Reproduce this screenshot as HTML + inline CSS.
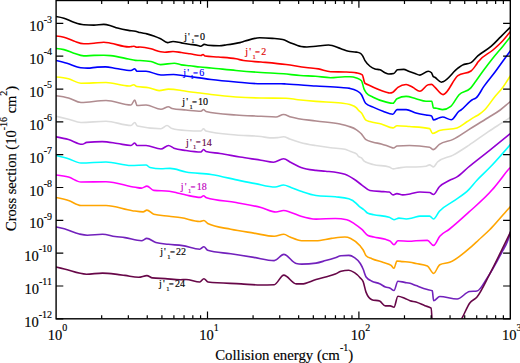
<!DOCTYPE html>
<html><head><meta charset="utf-8"><style>
html,body{margin:0;padding:0;background:#fff;}
body{width:520px;height:363px;overflow:hidden;}
svg{display:block;font-family:"Liberation Serif",serif;}
text{stroke:currentColor;stroke-width:0.15px;}
</style></head><body>
<svg width="520" height="363" viewBox="0 0 520 363">
<defs><clipPath id="cp"><rect x="56.1" y="0.5" width="454.2" height="318.3"/></clipPath></defs>
<g clip-path="url(#cp)" fill="none" stroke-width="1.6" stroke-linejoin="round" stroke-linecap="round">
<path stroke="#000000" d="M56.00,16.50C58.63,16.95 61.27,17.40 63.90,18.20C67.20,19.20 70.50,21.20 73.80,22.30C77.13,23.41 80.47,24.60 83.80,24.80C87.20,25.00 90.60,25.10 94.00,25.10C97.27,25.10 100.53,24.40 103.80,24.40C106.07,24.40 108.33,25.09 110.60,25.70C112.90,26.32 115.20,27.42 117.50,28.10C121.17,29.18 124.83,29.84 128.50,30.40C130.80,30.75 133.10,30.67 135.40,31.20C136.93,31.55 138.47,32.20 140.00,32.60C142.30,33.19 144.60,33.33 146.90,33.90C149.20,34.47 151.50,35.18 153.80,36.00C156.07,36.81 158.33,37.71 160.60,38.80C162.90,39.91 165.20,42.60 167.50,42.60C169.33,42.60 171.17,41.50 173.00,41.50C175.77,41.50 178.53,42.44 181.30,42.90C183.93,43.34 186.57,43.78 189.20,44.20C192.40,44.71 195.60,44.95 198.80,45.70C199.47,45.86 200.13,46.20 200.80,46.20C201.93,46.20 203.07,44.40 204.20,44.40C205.37,44.40 206.53,45.10 207.70,45.20C211.53,45.53 215.37,45.70 219.20,45.70C221.77,45.70 224.33,45.15 226.90,44.80C229.47,44.45 232.03,44.04 234.60,43.60C236.40,43.29 238.20,43.04 240.00,42.60C241.67,42.19 243.33,41.57 245.00,41.10C249.87,39.73 254.73,37.80 259.60,37.80C263.83,37.80 268.07,38.06 272.30,38.40C275.77,38.68 279.23,38.77 282.70,39.50C285.00,39.99 287.30,41.49 289.60,42.40C293.43,43.92 297.27,45.84 301.10,46.50C303.03,46.83 304.97,47.00 306.90,47.00C309.93,47.00 312.97,46.48 316.00,46.20C320.17,45.82 324.33,45.00 328.50,45.00C332.67,45.00 336.83,47.41 341.00,48.75C343.50,49.55 346.00,50.70 348.50,51.25C351.08,51.82 353.67,51.54 356.25,52.10C357.50,52.37 358.75,52.43 360.00,53.10C360.83,53.54 361.67,54.35 362.50,55.60C363.33,56.85 364.17,59.18 365.00,60.60C366.67,63.45 368.33,64.85 370.00,66.25C371.67,67.65 373.33,68.50 375.00,69.00C376.67,69.50 378.33,69.25 380.00,69.75C381.67,70.25 383.33,72.00 385.00,72.75C386.25,73.31 387.50,74.00 388.75,74.00C390.42,74.00 392.08,73.83 393.75,73.50C395.00,73.25 396.25,69.89 397.50,69.75C399.58,69.52 401.67,69.40 403.75,69.40C405.42,69.40 407.08,70.64 408.75,71.25C410.83,72.01 412.92,72.79 415.00,73.50C416.63,74.06 418.27,75.10 419.90,75.10C422.67,75.10 425.43,71.20 428.20,71.20C429.30,71.20 430.40,71.73 431.50,72.80C432.03,73.32 432.57,75.84 433.10,76.40C433.67,77.00 434.23,76.98 434.80,77.30C437.00,78.56 439.20,82.20 441.40,82.20C441.97,82.20 442.53,81.90 443.10,81.70C448.03,79.93 452.97,71.86 457.90,68.20C459.40,67.09 460.90,65.93 462.40,65.10C465.27,63.52 468.13,64.27 471.00,62.60C473.27,61.28 475.53,57.93 477.80,55.90C482.30,51.87 486.80,50.17 491.30,46.20C494.50,43.37 497.70,39.80 500.90,36.60C504.27,33.23 507.63,29.87 511.00,26.50"/>
<path stroke="#ff0000" d="M56.00,36.00C58.63,36.26 61.27,36.53 63.90,37.20C67.20,38.04 70.50,39.90 73.80,41.00C77.13,42.11 80.47,43.80 83.80,43.80C87.20,43.80 90.60,43.58 94.00,43.30C97.27,43.03 100.53,42.20 103.80,42.20C106.07,42.20 108.33,42.83 110.60,43.20C116.57,44.18 122.53,46.90 128.50,46.90C129.43,46.90 130.37,46.70 131.30,46.60C132.20,46.50 133.10,46.30 134.00,46.30C134.93,46.30 135.87,47.30 136.80,47.30C137.87,47.30 138.93,47.00 140.00,47.00C143.67,47.00 147.33,47.80 151.00,48.70C154.20,49.48 157.40,51.27 160.60,51.80C162.00,52.03 163.40,52.20 164.80,52.20C167.53,52.20 170.27,51.50 173.00,51.50C175.77,51.50 178.53,52.13 181.30,52.50C184.20,52.89 187.10,53.36 190.00,53.80C193.67,54.36 197.33,55.50 201.00,55.50C201.67,55.50 202.33,54.50 203.00,54.50C203.67,54.50 204.33,55.90 205.00,56.00C209.50,56.67 214.00,56.61 218.50,57.00C224.33,57.51 230.17,57.69 236.00,58.80C238.50,59.27 241.00,60.07 243.50,60.50C249.33,61.50 255.17,61.47 261.00,62.00C269.33,62.76 277.67,63.44 286.00,64.50C292.67,65.35 299.33,66.66 306.00,67.50C310.17,68.03 314.33,68.18 318.50,68.90C322.53,69.60 326.57,71.53 330.60,71.70C335.40,71.90 340.20,71.83 345.00,72.00C346.63,72.06 348.27,72.09 349.90,72.20C352.10,72.35 354.30,72.43 356.50,72.90C358.43,73.31 360.37,73.57 362.30,74.90C363.13,75.47 363.97,82.24 364.80,83.10C365.90,84.23 367.00,84.25 368.10,84.80C374.17,87.82 380.23,90.58 386.30,92.20C387.40,92.49 388.50,93.00 389.60,93.00C390.70,93.00 391.80,92.73 392.90,92.20C394.57,91.39 396.23,88.44 397.90,87.30C400.63,85.43 403.37,84.50 406.10,84.50C408.30,84.50 410.50,86.23 412.70,87.30C415.10,88.47 417.50,91.30 419.90,91.30C422.67,91.30 425.43,85.20 428.20,84.70C429.30,84.50 430.40,84.40 431.50,84.40C432.60,84.40 433.70,86.25 434.80,87.20C437.57,89.58 440.33,94.60 443.10,94.60C448.03,94.60 452.97,79.06 457.90,75.60C462.27,72.53 466.63,74.07 471.00,71.00C472.67,69.83 474.33,67.36 476.00,65.00C476.67,64.06 477.33,62.95 478.00,62.00C483.00,54.91 488.00,54.45 493.00,50.00C496.33,47.03 499.67,44.15 503.00,40.50C505.67,37.58 508.33,34.19 511.00,30.80"/>
<path stroke="#00ff00" d="M56.00,48.40C58.63,48.68 61.27,48.95 63.90,49.60C67.20,50.41 70.50,52.15 73.80,53.20C77.13,54.26 80.47,55.90 83.80,55.90C87.20,55.90 90.60,55.52 94.00,55.40C97.27,55.29 100.53,55.20 103.80,55.20C106.07,55.20 108.33,55.38 110.60,55.60C116.57,56.17 122.53,57.81 128.50,59.00C130.80,59.46 133.10,60.30 135.40,60.40C136.93,60.47 138.47,60.44 140.00,60.50C143.67,60.65 147.33,60.83 151.00,61.50C154.20,62.08 157.40,64.60 160.60,64.60C165.20,64.60 169.80,63.20 174.40,63.20C176.70,63.20 179.00,64.48 181.30,64.90C184.20,65.43 187.10,65.48 190.00,65.80C193.33,66.17 196.67,66.65 200.00,67.00C203.67,67.39 207.33,67.66 211.00,68.00C219.33,68.78 227.67,69.75 236.00,70.50C244.33,71.25 252.67,71.93 261.00,72.50C268.53,73.01 276.07,73.17 283.60,73.80C289.17,74.26 294.73,75.10 300.30,75.50C305.37,75.87 310.43,75.83 315.50,76.20C320.53,76.57 325.57,77.70 330.60,77.70C335.40,77.70 340.20,76.70 345.00,76.70C346.63,76.70 348.27,76.70 349.90,76.70C352.10,76.70 354.30,77.10 356.50,77.90C358.17,78.51 359.83,78.83 361.50,80.70C362.33,81.63 363.17,86.83 364.00,88.90C364.80,90.88 365.60,92.00 366.40,93.00C368.63,95.80 370.87,95.99 373.10,97.20C377.50,99.58 381.90,101.02 386.30,102.10C388.50,102.64 390.70,103.30 392.90,103.30C394.27,103.30 395.63,99.52 397.00,98.80C400.03,97.20 403.07,96.40 406.10,96.40C409.40,96.40 412.70,97.99 416.00,98.80C419.33,99.62 422.67,101.30 426.00,101.30C427.93,101.30 429.87,101.30 431.80,101.30C432.33,101.30 432.87,107.79 433.40,107.90C434.40,108.10 435.40,108.06 436.40,108.20C438.43,108.49 440.47,109.60 442.50,109.60C445.27,109.60 448.03,108.50 450.80,106.30C453.57,104.10 456.33,97.61 459.10,94.70C462.93,90.67 466.77,92.29 470.60,88.10C472.27,86.28 473.93,83.75 475.60,81.50C478.27,77.90 480.93,73.91 483.60,70.30C486.80,65.96 490.00,61.80 493.20,57.80C496.43,53.76 499.67,50.18 502.90,46.20C505.60,42.88 508.30,39.44 511.00,36.00"/>
<path stroke="#0000ff" d="M56.00,60.50C59.67,61.38 63.33,62.26 67.00,63.30C71.60,64.60 76.20,67.16 80.80,67.70C83.07,67.97 85.33,68.10 87.60,68.10C90.83,68.10 94.07,67.26 97.30,67.10C100.03,66.97 102.77,66.90 105.50,66.90C109.00,66.90 112.50,67.99 116.00,68.50C121.00,69.22 126.00,70.50 131.00,70.50C132.25,70.50 133.50,68.75 134.75,68.75C135.50,68.75 136.25,71.25 137.00,71.25C140.00,71.25 143.00,71.25 146.00,71.25C151.00,71.25 156.00,75.00 161.00,75.00C165.17,75.00 169.33,74.50 173.50,74.50C176.93,74.50 180.37,75.36 183.80,75.80C188.37,76.39 192.93,76.98 197.50,77.60C202.00,78.21 206.50,78.93 211.00,79.50C219.33,80.55 227.67,81.29 236.00,82.00C244.33,82.71 252.67,83.75 261.00,83.75C267.67,83.75 274.33,83.75 281.00,83.75C282.67,83.75 284.33,83.91 286.00,84.00C296.00,84.52 306.00,85.37 316.00,86.00C324.33,86.53 332.67,86.75 341.00,87.50C343.97,87.77 346.93,87.80 349.90,88.40C352.10,88.84 354.30,89.26 356.50,90.60C358.17,91.62 359.83,92.16 361.50,94.70C362.87,96.78 364.23,101.92 365.60,103.30C368.10,105.83 370.60,105.93 373.10,107.10C376.40,108.64 379.70,110.02 383.00,111.20C386.30,112.38 389.60,114.20 392.90,114.20C394.27,114.20 395.63,109.60 397.00,109.60C400.03,109.60 403.07,109.60 406.10,109.60C409.40,109.60 412.70,112.00 416.00,112.90C419.33,113.81 422.67,114.41 426.00,115.00C427.87,115.33 429.73,115.30 431.60,115.90C432.23,116.10 432.87,120.00 433.50,120.00C435.47,120.00 437.43,118.39 439.40,117.80C440.43,117.49 441.47,117.00 442.50,117.00C445.40,117.00 448.30,119.80 451.20,119.80C453.83,119.80 456.47,113.10 459.10,111.20C459.73,110.74 460.37,110.43 461.00,110.00C464.77,107.47 468.53,101.90 472.30,99.70C473.57,98.96 474.83,98.92 476.10,97.90C478.70,95.82 481.30,90.04 483.90,86.40C487.73,81.04 491.57,76.78 495.40,71.60C498.17,67.86 500.93,63.83 503.70,60.00C506.13,56.64 508.57,53.32 511.00,50.00"/>
<path stroke="#ffff00" d="M56.00,77.00C60.17,77.35 64.33,77.71 68.50,78.75C72.67,79.79 76.83,83.25 81.00,83.25C89.33,83.25 97.67,82.50 106.00,82.50C113.73,82.50 121.47,86.00 129.20,86.00C130.73,86.00 132.27,84.80 133.80,84.80C134.77,84.80 135.73,86.31 136.70,86.50C140.73,87.30 144.77,86.91 148.80,87.70C152.27,88.38 155.73,90.60 159.20,90.60C162.27,90.60 165.33,89.10 168.40,89.10C172.27,89.10 176.13,89.61 180.00,90.20C182.00,90.51 184.00,90.98 186.00,91.30C189.83,91.92 193.67,92.21 197.50,92.70C202.00,93.27 206.50,93.95 211.00,94.50C219.33,95.51 227.67,96.42 236.00,97.00C244.33,97.58 252.67,97.87 261.00,98.00C269.33,98.13 277.67,98.07 286.00,98.20C290.00,98.26 294.00,99.25 298.00,99.70C304.00,100.38 310.00,100.91 316.00,101.40C324.33,102.08 332.67,101.93 341.00,103.00C343.97,103.38 346.93,103.53 349.90,104.60C352.10,105.39 354.30,105.70 356.50,107.90C357.07,108.47 357.63,109.36 358.20,110.00C359.30,111.24 360.40,111.62 361.50,113.00C362.87,114.71 364.23,118.79 365.60,119.90C367.00,121.03 368.40,121.11 369.80,121.60C373.63,122.95 377.47,122.96 381.30,124.00C385.17,125.05 389.03,127.90 392.90,127.90C394.27,127.90 395.63,125.70 397.00,125.70C401.13,125.70 405.27,126.17 409.40,126.50C416.13,127.04 422.87,127.20 429.60,128.60C430.57,128.80 431.53,133.50 432.50,133.50C434.80,133.50 437.10,131.28 439.40,130.60C445.27,128.87 451.13,129.73 457.00,128.00C460.30,127.03 463.60,123.87 466.90,121.80C469.50,120.17 472.10,118.44 474.70,116.90C476.10,116.07 477.50,115.44 478.90,114.50C480.77,113.25 482.63,111.80 484.50,110.00C488.13,106.49 491.77,100.33 495.40,96.00C497.57,93.42 499.73,91.46 501.90,88.60C504.10,85.70 506.30,81.97 508.50,78.70C509.33,77.46 510.17,76.23 511.00,75.00"/>
<path stroke="#b08c90" d="M56.00,95.75C60.17,96.31 64.33,96.88 68.50,98.00C72.67,99.12 76.83,102.50 81.00,102.50C89.33,102.50 97.67,100.50 106.00,100.50C114.33,100.50 122.67,105.00 131.00,105.00C132.25,105.00 133.50,100.00 134.75,100.00C135.50,100.00 136.25,105.50 137.00,105.50C140.00,105.50 143.00,105.00 146.00,105.00C151.00,105.00 156.00,109.25 161.00,109.25C163.50,109.25 166.00,106.75 168.50,106.75C169.67,106.75 170.83,108.25 172.00,108.50C176.67,109.50 181.33,109.55 186.00,110.00C191.00,110.48 196.00,111.25 201.00,111.25C201.83,111.25 202.67,109.50 203.50,109.50C204.33,109.50 205.17,111.31 206.00,111.50C216.00,113.83 226.00,114.20 236.00,115.00C244.33,115.67 252.67,115.83 261.00,116.25C266.00,116.50 271.00,117.00 276.00,117.00C278.50,117.00 281.00,114.50 283.50,114.50C286.00,114.50 288.50,116.27 291.00,117.00C299.33,119.44 307.67,119.82 316.00,121.00C324.00,122.14 332.00,122.17 340.00,124.00C342.77,124.63 345.53,125.22 348.30,126.20C351.03,127.16 353.77,127.92 356.50,129.80C358.17,130.95 359.83,132.16 361.50,134.00C362.87,135.51 364.23,138.38 365.60,139.40C368.10,141.27 370.60,141.46 373.10,142.20C375.83,143.00 378.57,143.16 381.30,143.90C384.07,144.65 386.83,145.80 389.60,146.70C390.97,147.14 392.33,148.00 393.70,148.00C394.80,148.00 395.90,146.09 397.00,146.00C401.13,145.67 405.27,145.50 409.40,145.50C416.13,145.50 422.87,146.10 429.60,147.30C430.77,147.51 431.93,149.60 433.10,149.60C435.20,149.60 437.30,145.75 439.40,144.30C443.97,141.15 448.53,141.60 453.10,139.40C458.33,136.88 463.57,132.85 468.80,129.60C475.33,125.54 481.87,121.61 488.40,117.50C492.33,115.03 496.27,112.95 500.20,110.00C503.00,107.90 505.80,105.33 508.60,103.00C509.40,102.33 510.20,101.67 511.00,101.00"/>
<path stroke="#dcdcdc" d="M56.00,116.25C60.17,117.23 64.33,118.21 68.50,119.25C72.67,120.29 76.83,122.50 81.00,122.50C89.33,122.50 97.67,121.25 106.00,121.25C114.33,121.25 122.67,125.50 131.00,125.50C132.25,125.50 133.50,122.50 134.75,122.50C135.67,122.50 136.58,125.79 137.50,126.00C145.33,127.83 153.17,128.75 161.00,128.75C163.00,128.75 165.00,125.50 167.00,125.50C168.67,125.50 170.33,128.02 172.00,128.50C176.67,129.83 181.33,130.19 186.00,130.50C191.00,130.83 196.00,131.00 201.00,131.00C201.83,131.00 202.67,128.75 203.50,128.75C204.33,128.75 205.17,130.78 206.00,131.00C216.00,133.67 226.00,134.07 236.00,135.00C244.33,135.78 252.67,135.50 261.00,136.50C264.00,136.86 267.00,137.90 270.00,137.90C272.53,137.90 275.07,137.80 277.60,137.60C279.60,137.44 281.60,136.70 283.60,136.70C285.63,136.70 287.67,138.36 289.70,139.10C293.23,140.38 296.77,141.46 300.30,142.40C305.37,143.75 310.43,144.61 315.50,145.50C320.53,146.38 325.57,147.07 330.60,147.70C335.40,148.30 340.20,148.20 345.00,149.20C346.90,149.60 348.80,150.84 350.70,151.60C352.63,152.37 354.57,152.33 356.50,153.80C357.13,154.28 357.77,155.79 358.40,156.40C359.43,157.40 360.47,156.99 361.50,157.90C362.40,158.69 363.30,160.49 364.20,161.20C364.67,161.57 365.13,161.75 365.60,162.00C368.10,163.33 370.60,163.81 373.10,164.50C378.47,165.99 383.83,165.33 389.20,167.00C390.50,167.40 391.80,168.90 393.10,168.90C395.03,168.90 396.97,168.19 398.90,167.90C401.30,167.54 403.70,167.00 406.10,167.00C409.40,167.00 412.70,167.00 416.00,167.00C419.33,167.00 422.67,166.73 426.00,166.20C427.20,166.01 428.40,164.90 429.60,164.90C430.90,164.90 432.20,166.90 433.50,166.90C434.83,166.90 436.17,163.18 437.50,162.00C442.70,157.40 447.90,157.87 453.10,155.10C458.33,152.31 463.57,148.74 468.80,145.30C475.33,141.00 481.87,135.96 488.40,131.60C493.00,128.53 497.60,125.67 502.20,122.70C505.13,120.80 508.07,118.90 511.00,117.00"/>
<path stroke="#9400d3" d="M56.00,136.80C60.17,137.57 64.33,138.33 68.50,139.50C73.07,140.78 77.63,144.30 82.20,144.30C83.73,144.30 85.27,142.56 86.80,142.40C91.93,141.87 97.07,141.60 102.20,141.60C107.30,141.60 112.40,142.80 117.50,143.50C122.00,144.12 126.50,145.50 131.00,145.50C132.25,145.50 133.50,143.00 134.75,143.00C135.50,143.00 136.25,145.50 137.00,145.50C140.00,145.50 143.00,145.50 146.00,145.50C151.00,145.50 156.00,149.00 161.00,149.00C163.50,149.00 166.00,145.50 168.50,145.50C170.30,145.50 172.10,147.52 173.90,148.20C177.93,149.73 181.97,149.89 186.00,150.50C190.97,151.25 195.93,152.00 200.90,152.00C201.77,152.00 202.63,149.50 203.50,149.50C204.33,149.50 205.17,151.26 206.00,151.50C210.67,152.83 215.33,152.77 220.00,153.50C226.67,154.54 233.33,155.91 240.00,157.00C247.00,158.15 254.00,159.10 261.00,160.20C265.17,160.85 269.33,162.20 273.50,162.20C276.83,162.20 280.17,158.75 283.50,158.75C286.00,158.75 288.50,161.25 291.00,162.50C294.33,164.17 297.67,166.24 301.00,167.50C306.00,169.39 311.00,169.77 316.00,170.40C319.20,170.80 322.40,170.85 325.60,171.20C332.03,171.90 338.47,172.23 344.90,174.30C348.10,175.33 351.30,177.39 354.50,179.50C357.07,181.19 359.63,183.47 362.20,185.30C364.77,187.13 367.33,190.08 369.90,190.50C374.40,191.23 378.90,191.27 383.40,191.60C385.33,191.74 387.27,191.73 389.20,192.00C390.50,192.18 391.80,194.90 393.10,194.90C394.37,194.90 395.63,193.60 396.90,193.60C398.83,193.60 400.77,194.90 402.70,194.90C405.13,194.90 407.57,194.38 410.00,194.00C413.27,193.48 416.53,192.00 419.80,192.00C423.07,192.00 426.33,192.17 429.60,192.50C430.90,192.63 432.20,194.50 433.50,194.50C435.47,194.50 437.43,188.79 439.40,186.70C442.67,183.23 445.93,182.26 449.20,180.50C451.80,179.10 454.40,178.52 457.00,176.90C460.67,174.61 464.33,170.56 468.00,167.50C475.00,161.66 482.00,156.41 489.00,150.80C496.33,144.92 503.67,138.96 511.00,133.00"/>
<path stroke="#00ffff" d="M56.00,155.50C60.17,156.50 64.33,157.50 68.50,158.75C72.67,160.00 76.83,163.00 81.00,163.00C89.33,163.00 97.67,162.00 106.00,162.00C114.33,162.00 122.67,165.50 131.00,165.50C136.00,165.50 141.00,165.00 146.00,165.00C147.33,165.00 148.67,167.20 150.00,167.50C153.67,168.33 157.33,168.75 161.00,168.75C164.00,168.75 167.00,168.40 170.00,168.40C175.33,168.40 180.67,171.06 186.00,172.00C194.33,173.47 202.67,173.24 211.00,174.50C220.67,175.96 230.33,178.67 240.00,180.60C245.17,181.63 250.33,182.65 255.50,183.60C262.07,184.81 268.63,187.00 275.20,187.00C277.97,187.00 280.73,185.00 283.50,185.00C286.00,185.00 288.50,186.62 291.00,187.50C294.33,188.67 297.67,190.12 301.00,191.25C306.00,192.94 311.00,194.83 316.00,195.50C322.43,196.37 328.87,196.06 335.30,196.80C339.80,197.32 344.30,197.47 348.80,198.80C351.37,199.56 353.93,201.12 356.50,203.60C357.13,204.21 357.77,204.98 358.40,205.60C360.33,207.49 362.27,208.41 364.20,210.00C365.47,211.04 366.73,212.69 368.00,213.30C369.93,214.23 371.87,214.28 373.80,214.70C378.93,215.83 384.07,215.53 389.20,217.20C390.80,217.72 392.40,219.70 394.00,219.70C395.63,219.70 397.27,218.10 398.90,218.10C401.33,218.10 403.77,219.00 406.20,219.00C408.47,219.00 410.73,218.27 413.00,217.80C415.33,217.31 417.67,216.10 420.00,216.10C423.20,216.10 426.40,216.10 429.60,216.10C430.90,216.10 432.20,219.00 433.50,219.00C435.47,219.00 437.43,213.44 439.40,211.20C443.97,206.00 448.53,204.74 453.10,201.40C458.33,197.57 463.57,194.93 468.80,189.60C471.43,186.92 474.07,183.38 476.70,180.50C481.13,175.66 485.57,171.92 490.00,167.30C497.00,160.01 504.00,151.90 511.00,143.80"/>
<path stroke="#ff00ff" d="M56.00,175.00C60.17,175.42 64.33,175.83 68.50,177.00C72.67,178.17 76.83,182.00 81.00,182.00C89.33,182.00 97.67,181.75 106.00,181.75C115.80,181.75 125.60,185.92 135.40,187.30C137.43,187.59 139.47,188.10 141.50,188.10C143.30,188.10 145.10,186.10 146.90,186.10C149.20,186.10 151.50,190.16 153.80,190.40C158.93,190.93 164.07,190.67 169.20,191.20C172.30,191.52 175.40,192.49 178.50,193.20C181.00,193.77 183.50,194.46 186.00,195.00C190.83,196.04 195.67,197.40 200.50,197.40C201.50,197.40 202.50,195.80 203.50,195.80C204.50,195.80 205.50,197.37 206.50,197.70C216.33,200.90 226.17,200.70 236.00,202.50C244.33,204.02 252.67,205.31 261.00,207.50C266.00,208.81 271.00,212.00 276.00,212.00C278.50,212.00 281.00,210.50 283.50,210.50C286.00,210.50 288.50,211.72 291.00,212.50C294.33,213.54 297.67,215.25 301.00,216.25C306.00,217.75 311.00,219.10 316.00,219.10C322.43,219.10 328.87,218.50 335.30,218.50C339.13,218.50 342.97,218.90 346.80,219.70C349.37,220.24 351.93,222.23 354.50,223.90C357.07,225.57 359.63,227.41 362.20,229.70C364.13,231.43 366.07,234.50 368.00,235.50C369.93,236.50 371.87,236.54 373.80,237.00C377.67,237.92 381.53,237.99 385.40,239.30C387.00,239.84 388.60,240.10 390.20,241.20C391.47,242.07 392.73,244.70 394.00,244.70C395.30,244.70 396.60,240.70 397.90,240.70C401.93,240.70 405.97,241.20 410.00,241.20C412.00,241.20 414.00,240.81 416.00,240.70C419.80,240.50 423.60,240.40 427.40,240.40C429.47,240.40 431.53,245.40 433.60,245.40C435.67,245.40 437.73,238.64 439.80,236.20C442.87,232.58 445.93,231.87 449.00,229.50C455.60,224.39 462.20,218.22 468.80,212.20C476.67,205.03 484.53,198.75 492.40,189.60C495.00,186.58 497.60,183.27 500.20,180.00C502.80,176.73 505.40,172.80 508.00,170.00C509.00,168.92 510.00,167.96 511.00,167.00"/>
<path stroke="#ffa500" d="M56.00,197.50C60.17,198.33 64.33,199.17 68.50,200.50C72.67,201.83 76.83,205.50 81.00,205.50C89.33,205.50 97.67,205.50 106.00,205.50C114.77,205.50 123.53,209.50 132.30,210.70C135.90,211.19 139.50,211.90 143.10,211.90C144.37,211.90 145.63,210.10 146.90,210.10C149.20,210.10 151.50,213.60 153.80,214.20C158.93,215.53 164.07,215.53 169.20,216.20C173.30,216.73 177.40,217.15 181.50,217.80C187.60,218.77 193.70,221.50 199.80,221.50C201.17,221.50 202.53,220.50 203.90,220.50C205.17,220.50 206.43,222.87 207.70,223.50C215.40,227.30 223.10,227.60 230.80,229.20C238.47,230.80 246.13,231.85 253.80,233.10C260.60,234.21 267.40,236.30 274.20,236.30C277.40,236.30 280.60,234.30 283.80,234.30C285.87,234.30 287.93,236.19 290.00,237.00C293.90,238.54 297.80,240.65 301.70,240.70C306.47,240.77 311.23,240.80 316.00,240.80C321.13,240.80 326.27,239.06 331.40,238.40C335.90,237.82 340.40,237.00 344.90,237.00C346.83,237.00 348.77,237.53 350.70,238.40C353.90,239.85 357.10,242.20 360.30,246.10C361.27,247.28 362.23,248.40 363.20,250.00C364.17,251.60 365.13,254.70 366.10,255.70C368.03,257.70 369.97,257.82 371.90,258.70C375.73,260.44 379.57,261.13 383.40,262.50C385.97,263.42 388.53,263.47 391.10,265.40C392.07,266.13 393.03,268.30 394.00,268.30C394.97,268.30 395.93,261.00 396.90,261.00C398.83,261.00 400.77,261.41 402.70,261.60C405.13,261.84 407.57,261.93 410.00,262.30C412.00,262.61 414.00,263.09 416.00,263.50C419.80,264.29 423.60,264.33 427.40,266.00C429.47,266.91 431.53,273.40 433.60,273.40C435.67,273.40 437.73,265.70 439.80,264.70C443.10,263.10 446.40,263.59 449.70,262.30C457.13,259.39 464.57,252.63 472.00,246.10C474.20,244.17 476.40,242.03 478.60,240.00C482.20,236.67 485.80,233.64 489.40,230.00C490.40,228.99 491.40,227.95 492.40,226.90C497.60,221.44 502.80,214.80 508.00,209.20C509.00,208.12 510.00,207.06 511.00,206.00"/>
<path stroke="#7221bc" d="M56.00,226.90C58.77,227.48 61.53,228.05 64.30,228.80C69.30,230.15 74.30,232.91 79.30,234.00C81.97,234.58 84.63,235.20 87.30,235.20C92.37,235.20 97.43,234.30 102.50,234.30C106.67,234.30 110.83,235.92 115.00,236.50C118.30,236.96 121.60,237.14 124.90,237.60C130.43,238.37 135.97,240.70 141.50,240.70C143.27,240.70 145.03,238.40 146.80,238.40C149.80,238.40 152.80,241.64 155.80,242.50C159.97,243.70 164.13,243.80 168.30,244.30C173.07,244.87 177.83,244.91 182.60,245.60C188.33,246.43 194.07,249.20 199.80,249.20C201.17,249.20 202.53,246.70 203.90,246.70C205.17,246.70 206.43,249.92 207.70,250.30C215.40,252.63 223.10,252.61 230.80,253.80C238.47,254.98 246.13,256.20 253.80,257.40C260.60,258.47 267.40,260.60 274.20,260.60C277.40,260.60 280.60,254.40 283.80,254.40C287.93,254.40 292.07,262.60 296.20,263.50C298.03,263.90 299.87,264.10 301.70,264.10C306.47,264.10 311.23,263.77 316.00,263.10C319.20,262.65 322.40,261.49 325.60,260.60C328.83,259.70 332.07,258.74 335.30,257.70C337.20,257.09 339.10,255.99 341.00,255.80C343.60,255.53 346.20,255.40 348.80,255.40C350.70,255.40 352.60,256.37 354.50,257.70C356.43,259.05 358.37,260.28 360.30,263.50C361.27,265.11 362.23,267.05 363.20,269.30C364.17,271.55 365.13,275.60 366.10,277.00C368.03,279.80 369.97,280.13 371.90,281.20C374.47,282.62 377.03,282.51 379.60,283.70C381.53,284.60 383.47,286.24 385.40,287.00C387.00,287.63 388.60,287.48 390.20,288.20C391.47,288.77 392.73,290.50 394.00,290.50C395.30,290.50 396.60,281.20 397.90,281.20C400.13,281.20 402.37,282.02 404.60,282.40C406.40,282.71 408.20,282.82 410.00,283.30C412.00,283.84 414.00,284.86 416.00,285.60C419.80,287.01 423.60,288.55 427.40,289.60C429.03,290.05 430.67,290.00 432.30,290.80C432.73,291.01 433.17,300.70 433.60,300.70C435.67,300.70 437.73,296.50 439.80,296.50C445.57,296.50 451.33,299.00 457.10,299.00C461.27,299.00 465.43,292.06 469.60,291.50C472.07,291.17 474.53,291.33 477.00,291.00C480.30,290.55 483.60,283.23 486.90,278.40C491.87,271.13 496.83,261.81 501.80,252.30C503.87,248.34 505.93,245.98 508.00,240.00C509.00,237.11 510.00,233.55 511.00,230.00"/>
<path stroke="#670748" d="M56.00,267.00C58.77,267.67 61.53,268.34 64.30,269.00C71.67,270.76 79.03,274.20 86.40,274.20C91.77,274.20 97.13,273.10 102.50,273.10C107.87,273.10 113.23,273.97 118.60,274.60C120.70,274.85 122.80,275.13 124.90,275.40C129.47,276.00 134.03,277.30 138.60,277.30C141.37,277.30 144.13,275.60 146.90,275.60C148.73,275.60 150.57,277.70 152.40,277.90C156.67,278.37 160.93,278.33 165.20,278.60C170.23,278.92 175.27,279.70 180.30,279.70C182.20,279.70 184.10,279.50 186.00,279.50C190.60,279.50 195.20,282.00 199.80,282.00C201.17,282.00 202.53,278.70 203.90,278.70C205.27,278.70 206.63,281.84 208.00,282.00C219.03,283.27 230.07,283.27 241.10,283.90C247.53,284.27 253.97,285.00 260.40,285.00C265.00,285.00 269.60,284.90 274.20,284.70C277.40,284.56 280.60,275.10 283.80,275.10C287.93,275.10 292.07,283.90 296.20,283.90C298.03,283.90 299.87,283.90 301.70,283.90C306.47,283.90 311.23,280.83 316.00,279.50C319.20,278.61 322.40,277.89 325.60,277.00C328.83,276.10 332.07,275.49 335.30,274.10C337.20,273.28 339.10,271.69 341.00,271.20C343.60,270.53 346.20,270.20 348.80,270.20C350.70,270.20 352.60,271.44 354.50,272.70C356.43,273.99 358.37,275.59 360.30,277.90C361.27,279.06 362.23,279.38 363.20,281.80C364.17,284.22 365.13,289.97 366.10,292.40C368.03,297.27 369.97,299.00 371.90,299.70C374.47,300.63 377.03,300.17 379.60,301.10C381.53,301.80 383.47,305.90 385.40,305.90C387.00,305.90 388.60,305.90 390.20,305.90C391.47,305.90 392.73,307.20 394.00,307.20C395.30,307.20 396.60,296.20 397.90,296.20C400.13,296.20 402.37,297.33 404.60,298.20C406.40,298.90 408.20,300.08 410.00,300.70C412.00,301.39 414.00,301.41 416.00,302.00C418.97,302.88 421.93,304.49 424.90,305.70C426.97,306.54 429.03,306.53 431.10,308.20C431.67,308.66 432.23,329.07 432.80,330.00C436.87,336.67 440.93,340.00 445.00,340.00C450.70,340.00 456.40,328.05 462.10,318.00C464.60,313.59 467.10,306.70 469.60,303.20C472.07,299.74 474.53,299.95 477.00,297.00C481.13,292.05 485.27,282.55 489.40,274.70C493.53,266.85 497.67,258.30 501.80,249.90C504.87,243.67 507.93,237.34 511.00,231.00"/>
</g>
<rect x="56.1" y="0.5" width="454.2" height="318.3" fill="none" stroke="#000" stroke-width="1.4"/>
<path d="M101.68 318.80V315.30M101.68 0.50V4.00M128.34 318.80V315.30M128.34 0.50V4.00M147.25 318.80V315.30M147.25 0.50V4.00M161.92 318.80V315.30M161.92 0.50V4.00M173.91 318.80V315.30M173.91 0.50V4.00M184.05 318.80V315.30M184.05 0.50V4.00M192.83 318.80V315.30M192.83 0.50V4.00M200.57 318.80V315.30M200.57 0.50V4.00M207.50 318.80V311.60M207.50 0.50V7.70M253.08 318.80V315.30M253.08 0.50V4.00M279.74 318.80V315.30M279.74 0.50V4.00M298.65 318.80V315.30M298.65 0.50V4.00M313.32 318.80V315.30M313.32 0.50V4.00M325.31 318.80V315.30M325.31 0.50V4.00M335.45 318.80V315.30M335.45 0.50V4.00M344.23 318.80V315.30M344.23 0.50V4.00M351.97 318.80V315.30M351.97 0.50V4.00M358.90 318.80V311.60M358.90 0.50V7.70M404.48 318.80V315.30M404.48 0.50V4.00M431.14 318.80V315.30M431.14 0.50V4.00M450.05 318.80V315.30M450.05 0.50V4.00M464.72 318.80V315.30M464.72 0.50V4.00M476.71 318.80V315.30M476.71 0.50V4.00M486.85 318.80V315.30M486.85 0.50V4.00M495.63 318.80V315.30M495.63 0.50V4.00M503.37 318.80V315.30M503.37 0.50V4.00M56.10 23.40H63.30M510.30 23.40H503.10M56.10 56.22H63.30M510.30 56.22H503.10M56.10 89.04H63.30M510.30 89.04H503.10M56.10 121.87H63.30M510.30 121.87H503.10M56.10 154.69H63.30M510.30 154.69H503.10M56.10 187.51H63.30M510.30 187.51H503.10M56.10 220.33H63.30M510.30 220.33H503.10M56.10 253.16H63.30M510.30 253.16H503.10M56.10 285.98H63.30M510.30 285.98H503.10M56.10 318.80H63.30M510.30 318.80H503.10" stroke="#000" stroke-width="1.2" fill="none"/>
<text x="52" y="31.4" text-anchor="end" font-size="14.5">10<tspan dy="-8.8" font-size="10">-3</tspan></text>
<text x="52" y="64.2" text-anchor="end" font-size="14.5">10<tspan dy="-8.8" font-size="10">-4</tspan></text>
<text x="52" y="97.0" text-anchor="end" font-size="14.5">10<tspan dy="-8.8" font-size="10">-5</tspan></text>
<text x="52" y="129.9" text-anchor="end" font-size="14.5">10<tspan dy="-8.8" font-size="10">-6</tspan></text>
<text x="52" y="162.7" text-anchor="end" font-size="14.5">10<tspan dy="-8.8" font-size="10">-7</tspan></text>
<text x="52" y="195.5" text-anchor="end" font-size="14.5">10<tspan dy="-8.8" font-size="10">-8</tspan></text>
<text x="52" y="228.3" text-anchor="end" font-size="14.5">10<tspan dy="-8.8" font-size="10">-9</tspan></text>
<text x="52" y="261.2" text-anchor="end" font-size="14.5">10<tspan dy="-8.8" font-size="10">-10</tspan></text>
<text x="52" y="294.0" text-anchor="end" font-size="14.5">10<tspan dy="-8.8" font-size="10">-11</tspan></text>
<text x="52" y="326.8" text-anchor="end" font-size="14.5">10<tspan dy="-8.8" font-size="10">-12</tspan></text>
<text x="57.6" y="339.6" text-anchor="middle" font-size="14.5">10<tspan dy="-8.8" font-size="10">0</tspan></text>
<text x="209.0" y="339.6" text-anchor="middle" font-size="14.5">10<tspan dy="-8.8" font-size="10">1</tspan></text>
<text x="360.4" y="339.6" text-anchor="middle" font-size="14.5">10<tspan dy="-8.8" font-size="10">2</tspan></text>
<text x="511.8" y="339.6" text-anchor="middle" font-size="14.5">10<tspan dy="-8.8" font-size="10">3</tspan></text>
<text x="284.2" y="359.6" text-anchor="middle" font-size="14.8">Collision energy (cm<tspan dy="-8.8" font-size="10">-1</tspan><tspan dy="8.8">)</tspan></text>
<text transform="translate(16.2,231) rotate(-90)" x="0" y="0" font-size="14.5">Cross section (10<tspan dy="-9.2" font-size="10">-16</tspan><tspan dy="9.2"> cm</tspan><tspan dy="-9.2" font-size="10">2</tspan><tspan dy="9.2">)</tspan></text>
<g fill="#000" color="#000" font-size="10"><text x="184.15" y="39.60">j</text><text x="188.10" y="39.60">'</text><text x="191.30" y="43.20" font-size="6.5">1</text><text x="193.90" y="39.30" font-size="8.8">=</text><text x="200.00" y="39.60">0</text></g>
<g fill="#e00000" color="#e00000" font-size="10"><text x="245.35" y="55.30">j</text><text x="249.30" y="55.30">'</text><text x="252.50" y="58.90" font-size="6.5">1</text><text x="255.10" y="55.00" font-size="8.8">=</text><text x="261.20" y="55.30">2</text></g>
<g fill="#0000ff" color="#0000ff" font-size="10"><text x="183.35" y="75.80">j</text><text x="187.30" y="75.80">'</text><text x="190.50" y="79.40" font-size="6.5">1</text><text x="193.10" y="75.50" font-size="8.8">=</text><text x="199.20" y="75.80">6</text></g>
<g fill="#000" color="#000" font-size="10"><text x="182.25" y="105.40">j</text><text x="186.20" y="105.40">'</text><text x="189.40" y="109.00" font-size="6.5">1</text><text x="192.00" y="105.10" font-size="8.8">=</text><text x="198.10" y="105.40">10</text></g>
<g fill="#670748" color="#670748" font-size="10"><text x="185.95" y="145.50">j</text><text x="189.90" y="145.50">'</text><text x="193.10" y="149.10" font-size="6.5">1</text><text x="195.70" y="145.20" font-size="8.8">=</text><text x="201.80" y="145.50">14</text></g>
<g fill="#c000c0" color="#c000c0" font-size="10"><text x="180.85" y="189.80">j</text><text x="184.80" y="189.80">'</text><text x="188.00" y="193.40" font-size="6.5">1</text><text x="190.60" y="189.50" font-size="8.8">=</text><text x="196.70" y="189.80">18</text></g>
<g fill="#000" color="#000" font-size="10"><text x="160.15" y="255.00">j</text><text x="164.10" y="255.00">'</text><text x="167.30" y="258.60" font-size="6.5">1</text><text x="169.90" y="254.70" font-size="8.8">=</text><text x="176.00" y="255.00">22</text></g>
<g fill="#000" color="#000" font-size="10"><text x="159.05" y="287.40">j</text><text x="163.00" y="287.40">'</text><text x="166.20" y="291.00" font-size="6.5">1</text><text x="168.80" y="287.10" font-size="8.8">=</text><text x="174.90" y="287.40">24</text></g>
</svg>
</body></html>
